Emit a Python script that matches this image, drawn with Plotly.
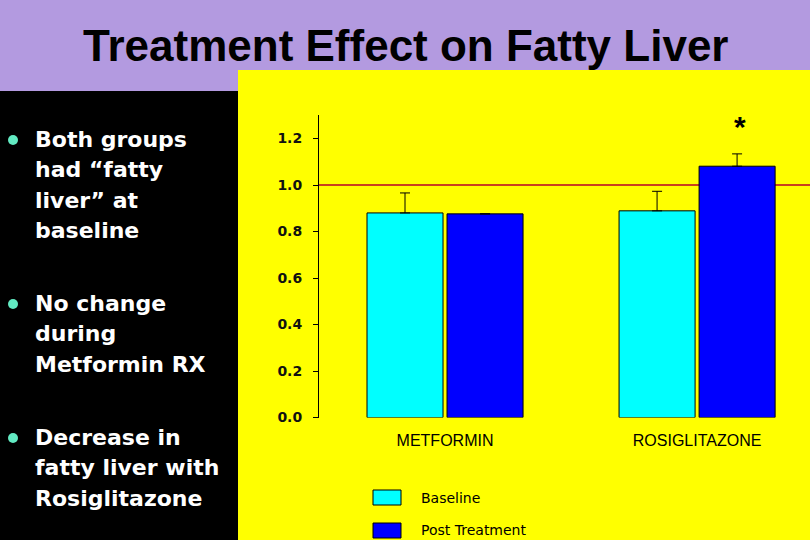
import plotly.graph_objects as go

# ---- data ----
categories = ["METFORMIN", "ROSIGLITAZONE"]
baseline = [0.880, 0.889]
baseline_err = [0.086, 0.084]
post = [0.876, 1.081]
post_err = [0.0, 0.053]
reference_level = 1.0
y_ticks = [0.0, 0.2, 0.4, 0.6, 0.8, 1.0, 1.2]
series_names = ["Baseline", "Post Treatment"]
bullets = [
    ["Both groups", "had \u201cfatty", "liver\u201d at", "baseline"],
    ["No change", "during", "Metformin RX"],
    ["Decrease in", "fatty liver with", "Rosiglitazone"],
]
title_text = "Treatment Effect on Fatty Liver"

W, H = 810, 540
PURPLE = "#B39AE0"
YELLOW = "#FFFF00"
CYAN = "#00FFFF"
BLUE = "#0000FF"
RED = "#C8401E"

def px(x):
    return x / W

def py(y):
    return 1 - y / H

fig = go.Figure()
fig.add_trace(go.Bar(
    x=categories, y=baseline, name=series_names[0],
    marker=dict(color=CYAN, line=dict(color="black", width=1)),
    error_y=dict(type="data", array=baseline_err, arrayminus=[0, 0], symmetric=False,
                 color="black", thickness=1, width=5),
))
fig.add_trace(go.Bar(
    x=categories, y=post, name=series_names[1],
    marker=dict(color=BLUE, line=dict(color="black", width=1)),
    error_y=dict(type="data", array=post_err, arrayminus=[0, 0], symmetric=False,
                 color="black", thickness=1, width=5),
))

shapes = []
# yellow panel
shapes.append(dict(type="rect", xref="paper", yref="paper", x0=px(238), x1=1, y0=0, y1=py(70),
                   fillcolor=YELLOW, line=dict(width=0), layer="below"))
# black left panel
shapes.append(dict(type="rect", xref="paper", yref="paper", x0=0, x1=px(238), y0=0, y1=py(91),
                   fillcolor="black", line=dict(width=0), layer="below"))
# red reference line
shapes.append(dict(type="line", xref="paper", yref="y", x0=px(319), x1=1, y0=reference_level, y1=reference_level,
                   line=dict(color=RED, width=2), layer="below"))
# legend boxes
shapes.append(dict(type="rect", xref="paper", yref="paper", x0=px(373), x1=px(401), y0=py(505), y1=py(490),
                   fillcolor=CYAN, line=dict(color="black", width=1)))
shapes.append(dict(type="rect", xref="paper", yref="paper", x0=px(373), x1=px(401), y0=py(538), y1=py(523),
                   fillcolor=BLUE, line=dict(color="black", width=1)))

annotations = []
annotations.append(dict(text="<b>" + title_text + "</b>", xref="paper", yref="paper", x=px(405), y=py(46),
                        xanchor="center", yanchor="middle", showarrow=False,
                        font=dict(family="Liberation Sans, Arial", size=44, color="black")))
annotations.append(dict(text=series_names[0], xref="paper", yref="paper", x=px(419), y=py(498),
                        xanchor="left", yanchor="middle", showarrow=False,
                        font=dict(family="DejaVu Sans", size=14, color="black")))
annotations.append(dict(text=series_names[1], xref="paper", yref="paper", x=px(419), y=py(530),
                        xanchor="left", yanchor="middle", showarrow=False,
                        font=dict(family="DejaVu Sans", size=14, color="black")))
annotations.append(dict(text="<b>*</b>", xref="x", yref="y", x=categories[1], y=1.25, xshift=43,
                        xanchor="center", yanchor="middle", showarrow=False,
                        font=dict(family="Liberation Sans, Arial", size=30, color="black")))

block_starts = [139, 303, 437]
line_step = 30.5
for start, lines in zip(block_starts, bullets):
    shapes.append(dict(type="circle", xref="paper", yref="paper",
                       x0=px(8), x1=px(18), y0=py(start + 6), y1=py(start - 4),
                       fillcolor="#62EAC2", line=dict(width=0)))
    for i, line in enumerate(lines):
        annotations.append(dict(text="<b>" + line + "</b>", xref="paper", yref="paper",
                                x=px(33), y=py(start + i * line_step), xanchor="left", yanchor="middle",
                                showarrow=False,
                                font=dict(family="DejaVu Sans", size=22, color="white")))

fig.update_layout(
    template="none",
    width=W, height=H, autosize=False,
    margin=dict(l=0, r=0, t=0, b=0, pad=0, autoexpand=False),
    paper_bgcolor=PURPLE,
    plot_bgcolor="rgba(0,0,0,0)",
    barmode="group", bargap=0.365, bargroupgap=0.05,
    showlegend=False,
    shapes=shapes, annotations=annotations,
    xaxis=dict(domain=[px(319), 1], range=[-0.5, 1.448], showline=False, ticks="", showgrid=False,
               zeroline=False, automargin=False,
               tickfont=dict(family="Liberation Sans, Arial", size=16, color="black"),
               ticklabelstandoff=11),
    yaxis=dict(domain=[py(417.5), py(115.3)], range=[0, 1.3], showline=True, linecolor="black", linewidth=1,
               ticks="outside", ticklen=5, tickcolor="black", tickvals=y_ticks, tickformat=".1f",
               showgrid=False, zeroline=False, automargin=False,
               tickfont=dict(family="DejaVu Sans", size=14, color="#111111", weight="bold"),
               ticklabelstandoff=8),
)

fig.write_html("out.html")
